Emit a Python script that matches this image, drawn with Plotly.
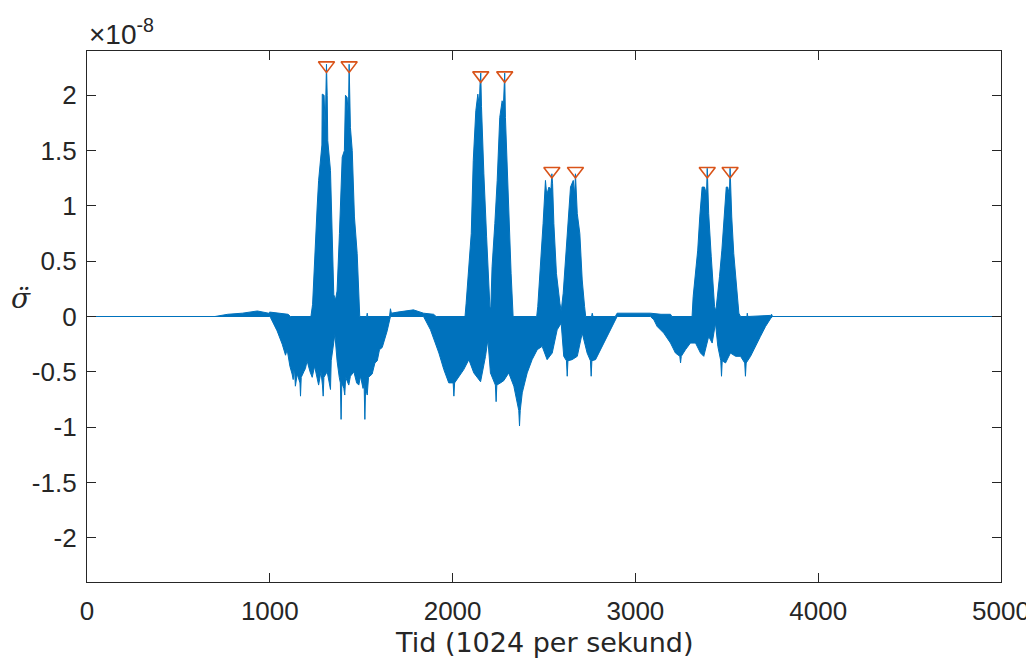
import plotly.graph_objects as go

# ---- data (signal envelope, y in units of 1e-8) ----
upper_x = [0, 700, 770, 850, 932, 993, 1000, 1060, 1100, 1113, 1225, 1234, 1245, 1259, 1267, 1277, 1285,
           1287, 1297, 1303, 1306, 1310, 1314, 1317, 1332, 1341, 1350, 1359, 1368, 1381, 1396, 1408,
           1414, 1423, 1430, 1434, 1438, 1441, 1451, 1463, 1478, 1487, 1492, 1530, 1533, 1536, 1655,
           1660, 1665, 1700, 1786, 1841, 1896, 1910, 2068, 2074, 2089, 2102, 2113, 2127, 2138, 2146,
           2150, 2154, 2158, 2162, 2171, 2186, 2198, 2204, 2209, 2216, 2231, 2244, 2258, 2271, 2278,
           2282, 2285, 2289, 2295, 2307, 2320, 2331, 2460, 2466, 2481, 2495, 2508, 2515, 2527, 2538,
           2543, 2547, 2554, 2568, 2587, 2594, 2605, 2618, 2632, 2645, 2660, 2668, 2672, 2676, 2682,
           2696, 2709, 2722, 2728, 2760, 2764, 2768, 2890, 2900, 3000, 3082, 3140, 3192, 3200, 3310,
           3316, 3329, 3341, 3352, 3365, 3378, 3389, 3393, 3397, 3401, 3415, 3425, 3433, 3440, 3447,
           3460, 3473, 3484, 3497, 3505, 3514, 3518, 3522, 3527, 3538, 3553, 3566, 3575, 3610, 3612,
           3615, 3740, 3745, 3750, 5000]
upper_y = [0, 0, 0.02, 0.03, 0.05, 0.03, 0.04, 0.03, 0.02, 0, 0, 0.11, 0.57, 0.99, 1.23, 1.44, 1.55,
           2.01, 2.0, 1.7, 2.1, 2.28, 2.0, 1.59, 1.32, 0.75, 0.2, 0.15, 0.23, 0.75, 1.44, 1.5,
           2.0, 1.98, 1.8, 2.28, 2.0, 1.71, 1.5, 0.9, 0.57, 0.2, 0, 0, 0.03, 0, 0,
           0.07, 0.03, 0.04, 0.06, 0.03, 0.02, 0, 0, 0.12, 0.51, 0.75, 1.41, 1.86, 2.01, 1.9,
           2.1, 2.2, 1.9, 1.68, 1.29, 0.72, 0.24, 0.09, 0.08, 0.45, 0.84, 1.23, 1.8, 1.95, 1.9,
           2.1, 2.2, 1.8, 1.5, 0.99, 0.39, 0, 0, 0.09, 0.45, 0.84, 1.23, 1.1, 1.17, 1.15,
           1.29, 1.2, 0.84, 0.39, 0.12, 0.05, 0.21, 0.51, 0.81, 1.17, 1.23, 1.1, 1.29, 1.1, 0.93,
           0.75, 0.33, 0.09, 0, 0, 0.03, 0, 0, 0.03, 0.03, 0.03, 0.02, 0.02, 0, 0,
           0.18, 0.39, 0.6, 0.9, 1.17, 1.17, 1.1, 1.34, 1.1, 0.93, 0.54, 0.3, 0.09, 0.05, 0.15,
           0.36, 0.6, 0.9, 1.17, 1.17, 1.1, 1.34, 1.1, 0.9, 0.57, 0.24, 0.03, 0, 0, 0.03,
           0, 0.01, 0.02, 0, 0]

lower_x = [0, 1000, 1004, 1040, 1068, 1086, 1095, 1110, 1122, 1128, 1134, 1140, 1150, 1165, 1168, 1172,
           1186, 1195, 1204, 1220, 1232, 1245, 1259, 1267, 1280, 1288, 1292, 1296, 1314, 1332, 1336,
           1341, 1356, 1368, 1380, 1386, 1390, 1394, 1405, 1410, 1415, 1432, 1441, 1460, 1475, 1487,
           1496, 1510, 1516, 1520, 1524, 1533, 1540, 1560, 1575, 1588, 1600, 1615, 1642, 1660,
           1841, 1879, 1897, 1925, 1952, 1979, 2003, 2007,
           2011, 2034, 2061, 2089, 2116, 2153, 2180, 2193, 2207, 2234, 2238, 2242, 2262, 2280, 2307,
           2335, 2353, 2362, 2366, 2370, 2381, 2408, 2435, 2463, 2490, 2517, 2545, 2572, 2594, 2608,
           2623, 2627, 2631, 2654, 2682, 2709, 2736, 2754, 2758, 2762, 2782, 2809, 2836, 2864, 2891,
           2900, 3082, 3101, 3119, 3155, 3192, 3219, 3243, 3247, 3251, 3274, 3301, 3329, 3356, 3374,
           3401, 3420, 3438, 3451, 3467, 3471, 3475, 3493, 3520, 3548, 3575, 3598, 3602, 3606, 3630,
           3657, 3684, 3712, 3739, 3750, 5000]
lower_y = [0, 0, -0.01, -0.13, -0.25, -0.35, -0.3, -0.45, -0.52, -0.57, -0.45, -0.63, -0.52, -0.6, -0.72, -0.55,
           -0.5, -0.47, -0.4, -0.5, -0.55, -0.45, -0.55, -0.62, -0.5, -0.62, -0.72, -0.55, -0.5, -0.66, -0.4,
           -0.34, -0.16, -0.4, -0.55, -0.6, -0.93, -0.6, -0.65, -0.71, -0.55, -0.62, -0.54, -0.5, -0.6, -0.62,
           -0.54, -0.65, -0.62, -0.93, -0.65, -0.71, -0.55, -0.52, -0.42, -0.4, -0.3, -0.28, -0.13, 0,
           0, -0.12, -0.21, -0.33, -0.48, -0.6, -0.6, -0.72,
           -0.6, -0.54, -0.48, -0.39, -0.51, -0.59, -0.36, -0.21, -0.51, -0.62, -0.77, -0.62, -0.6, -0.58, -0.51,
           -0.63, -0.78, -0.85, -0.99, -0.85, -0.69, -0.51, -0.39, -0.3, -0.27, -0.39, -0.33, -0.12, -0.06, -0.36,
           -0.4, -0.54, -0.4, -0.39, -0.36, -0.15, -0.33, -0.4, -0.54, -0.4, -0.39, -0.3, -0.21, -0.12, -0.03,
           0, 0, -0.03, -0.09, -0.15, -0.24, -0.33, -0.36, -0.42, -0.36, -0.3, -0.24, -0.24, -0.33, -0.36,
           -0.18, -0.24, -0.06, -0.27, -0.4, -0.54, -0.4, -0.42, -0.33, -0.36, -0.36, -0.42, -0.54, -0.42, -0.36,
           -0.27, -0.18, -0.09, -0.02, 0, 0]

peak_x = [1310, 1434, 2154, 2285, 2543, 2672, 3393, 3518]
peak_y = [2.27, 2.27, 2.18, 2.18, 1.315, 1.315, 1.315, 1.315]

x_ticks = [0, 1000, 2000, 3000, 4000, 5000]
x_tick_labels = ["0", "1000", "2000", "3000", "4000", "5000"]
y_ticks = [-2, -1.5, -1, -0.5, 0, 0.5, 1, 1.5, 2]
y_tick_labels = ["-2", "-1.5", "-1", "-0.5", "0", "0.5", "1", "1.5", "2"]

x_title = "Tid (1024 per sekund)"
y_title = "<i>σ̈</i>"
exponent = "×10<sup>-8</sup>"

BLUE = "#0072BD"
ORANGE = "#D95319"
AX = "#262626"
FONT = "Liberation Sans, Arial, sans-serif"

poly_x = upper_x + lower_x[::-1]
poly_y = upper_y + lower_y[::-1]

fig = go.Figure()
fig.add_trace(go.Scatter(x=poly_x, y=poly_y, mode="lines", fill="toself",
                         fillcolor=BLUE, line=dict(color=BLUE, width=1),
                         hoverinfo="skip", showlegend=False))
fig.add_trace(go.Scatter(x=peak_x, y=peak_y, mode="markers",
                         marker=dict(symbol="triangle-down-open", size=14,
                                     color=ORANGE, line=dict(color=ORANGE, width=1.6)),
                         showlegend=False))

axis_common = dict(showline=True, linecolor=AX, linewidth=1.3, mirror="ticks",
                   ticks="inside", ticklen=9, tickwidth=1.3, tickcolor=AX,
                   showgrid=False, zeroline=False, automargin=False,
                   ticklabeloverflow="allow",
                   tickfont=dict(family=FONT, size=26, color=AX))

fig.update_xaxes(range=[0, 5000], tickvals=x_ticks, ticktext=x_tick_labels,
                 ticklabelstandoff=6, **axis_common)
fig.update_yaxes(range=[-2.4, 2.4], tickvals=y_ticks, ticktext=y_tick_labels,
                 ticklabelstandoff=4, **axis_common)

# x axis title
fig.add_annotation(text=x_title, xref="paper", yref="paper", x=0.5, y=-0.113,
                   xanchor="center", yanchor="middle", showarrow=False,
                   font=dict(family="DejaVu Sans, sans-serif", size=27, color=AX))
# y label: sigma double-dot
fig.add_annotation(text=y_title, xref="paper", yref="paper", x=-0.0717, y=0.5345,
                   xanchor="center", yanchor="middle", showarrow=False,
                   font=dict(family="DejaVu Serif, serif", size=28, color=AX))
# axis exponent
fig.add_annotation(text=exponent, xref="paper", yref="paper", x=0, y=1,
                   xanchor="left", yanchor="bottom", showarrow=False, xshift=0, yshift=-1,
                   font=dict(family=FONT, size=28, color=AX))

# page body has an 8px margin: size the figure so the plot area lands where the reference has it
fig.update_layout(width=1030, height=653, margin=dict(l=79, r=37, t=43, b=79),
                  paper_bgcolor="white", plot_bgcolor="white", showlegend=False)

fig.write_html("out.html")
